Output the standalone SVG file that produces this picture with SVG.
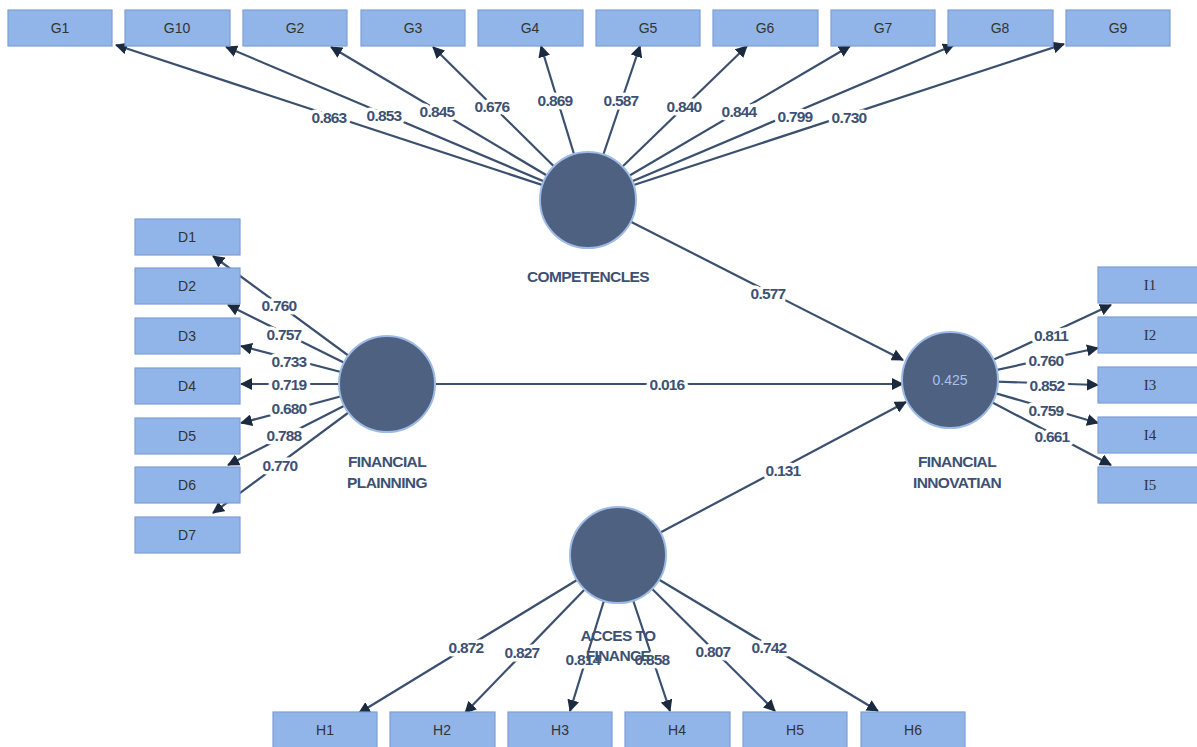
<svg xmlns="http://www.w3.org/2000/svg" width="1197" height="747" viewBox="0 0 1197 747">
<defs>
<style>
.box{fill:#91b4e9;stroke:#7c9fd4;stroke-width:1.2}
.bt{font-family:"Liberation Sans",Arial,sans-serif;font-size:14px;fill:#333;text-anchor:middle;dominant-baseline:central}
.bts{font-family:"Liberation Serif","Times New Roman",serif;font-size:15px;fill:#333;text-anchor:middle;dominant-baseline:central}
.lv{fill:#4e6180;stroke:#9dbbe6;stroke-width:2}
.lt{font-family:"Liberation Sans",Arial,sans-serif;font-size:15.5px;font-weight:bold;fill:#3d5173;text-anchor:middle;letter-spacing:-0.6px}
.lin{stroke:#3b4f6e;stroke-width:2.2;fill:none;marker-end:url(#ah)}
.wl{font-family:"Liberation Sans",Arial,sans-serif;font-size:15.5px;font-weight:bold;fill:#3d5173;text-anchor:middle;dominant-baseline:central;stroke:#fff;stroke-width:7;stroke-linejoin:round;paint-order:stroke;letter-spacing:-0.8px}
</style>
<marker id="ah" markerWidth="12" markerHeight="12" refX="11" refY="6" orient="auto" markerUnits="userSpaceOnUse">
<path d="M0,0 L12,6 L0,12 z" fill="#1c2a40"/>
</marker>
</defs>
<rect width="1197" height="747" fill="#fff"/>
<g id="connectors">
<line class="lin" x1="588" y1="200" x2="116" y2="45"/>
<line class="lin" x1="588" y1="200" x2="226" y2="47"/>
<line class="lin" x1="588" y1="200" x2="331" y2="47"/>
<line class="lin" x1="588" y1="200" x2="433" y2="47"/>
<line class="lin" x1="588" y1="200" x2="541" y2="46"/>
<line class="lin" x1="588" y1="200" x2="640" y2="46"/>
<line class="lin" x1="588" y1="200" x2="747" y2="46"/>
<line class="lin" x1="588" y1="200" x2="850" y2="46"/>
<line class="lin" x1="588" y1="200" x2="954" y2="45"/>
<line class="lin" x1="588" y1="200" x2="1064" y2="44"/>
<line class="lin" x1="387" y1="384" x2="213" y2="256"/>
<line class="lin" x1="387" y1="384" x2="228" y2="305"/>
<line class="lin" x1="387" y1="384" x2="241" y2="346"/>
<line class="lin" x1="387" y1="384" x2="241" y2="384"/>
<line class="lin" x1="387" y1="384" x2="241" y2="423"/>
<line class="lin" x1="387" y1="384" x2="228" y2="465"/>
<line class="lin" x1="387" y1="384" x2="213" y2="513"/>
<line class="lin" x1="950" y1="380" x2="1111" y2="305"/>
<line class="lin" x1="950" y1="380" x2="1098" y2="348"/>
<line class="lin" x1="950" y1="380" x2="1098" y2="385"/>
<line class="lin" x1="950" y1="380" x2="1098" y2="423"/>
<line class="lin" x1="950" y1="380" x2="1111" y2="465"/>
<line class="lin" x1="618" y1="555" x2="359" y2="713"/>
<line class="lin" x1="618" y1="555" x2="465" y2="713"/>
<line class="lin" x1="618" y1="555" x2="570" y2="711"/>
<line class="lin" x1="618" y1="555" x2="670" y2="711"/>
<line class="lin" x1="618" y1="555" x2="775" y2="711"/>
<line class="lin" x1="618" y1="555" x2="878" y2="711"/>
<line class="lin" x1="588" y1="200" x2="903" y2="360"/>
<line class="lin" x1="387" y1="384" x2="903" y2="384"/>
<line class="lin" x1="618" y1="555" x2="906" y2="402"/>
<text class="wl" x="329" y="117">0.863</text>
<text class="wl" x="384" y="115">0.853</text>
<text class="wl" x="437" y="111">0.845</text>
<text class="wl" x="492" y="106">0.676</text>
<text class="wl" x="555" y="100">0.869</text>
<text class="wl" x="621" y="100">0.587</text>
<text class="wl" x="684" y="106">0.840</text>
<text class="wl" x="739" y="111">0.844</text>
<text class="wl" x="795" y="116">0.799</text>
<text class="wl" x="849" y="117">0.730</text>
<text class="wl" x="279" y="305">0.760</text>
<text class="wl" x="284" y="334">0.757</text>
<text class="wl" x="289" y="361">0.733</text>
<text class="wl" x="289" y="384">0.719</text>
<text class="wl" x="289" y="408">0.680</text>
<text class="wl" x="284" y="435">0.788</text>
<text class="wl" x="280" y="465">0.770</text>
<text class="wl" x="1051" y="335">0.811</text>
<text class="wl" x="1046" y="360">0.760</text>
<text class="wl" x="1047" y="385">0.852</text>
<text class="wl" x="1046" y="410">0.759</text>
<text class="wl" x="1052" y="436">0.661</text>
<text class="wl" x="466" y="647">0.872</text>
<text class="wl" x="522" y="652">0.827</text>
<text class="wl" x="583" y="659">0.814</text>
<text class="wl" x="652" y="659">0.858</text>
<text class="wl" x="713" y="651">0.807</text>
<text class="wl" x="769" y="647">0.742</text>
<text class="wl" x="768" y="293">0.577</text>
<text class="wl" x="667" y="384">0.016</text>
<text class="wl" x="783" y="470">0.131</text>
</g>
<g id="G1"><rect class="box" x="8" y="10" width="104" height="36"/><text class="bt" x="60" y="28">G1</text></g>
<g id="G10"><rect class="box" x="125" y="10" width="105" height="36"/><text class="bt" x="177" y="28">G10</text></g>
<g id="G2"><rect class="box" x="243" y="10" width="104" height="36"/><text class="bt" x="295" y="28">G2</text></g>
<g id="G3"><rect class="box" x="361" y="10" width="104" height="36"/><text class="bt" x="413" y="28">G3</text></g>
<g id="G4"><rect class="box" x="478" y="10" width="105" height="36"/><text class="bt" x="530" y="28">G4</text></g>
<g id="G5"><rect class="box" x="596" y="10" width="104" height="36"/><text class="bt" x="648" y="28">G5</text></g>
<g id="G6"><rect class="box" x="713" y="10" width="105" height="36"/><text class="bt" x="765" y="28">G6</text></g>
<g id="G7"><rect class="box" x="831" y="10" width="104" height="36"/><text class="bt" x="883" y="28">G7</text></g>
<g id="G8"><rect class="box" x="948" y="10" width="105" height="36"/><text class="bt" x="1000" y="28">G8</text></g>
<g id="G9"><rect class="box" x="1066" y="10" width="104" height="36"/><text class="bt" x="1118" y="28">G9</text></g>
<g id="D1"><rect class="box" x="135" y="219" width="105" height="36"/><text class="bt" x="187" y="237">D1</text></g>
<g id="D2"><rect class="box" x="135" y="268" width="105" height="36"/><text class="bt" x="187" y="286">D2</text></g>
<g id="D3"><rect class="box" x="135" y="318" width="105" height="36"/><text class="bt" x="187" y="336">D3</text></g>
<g id="D4"><rect class="box" x="135" y="368" width="105" height="36"/><text class="bt" x="187" y="386">D4</text></g>
<g id="D5"><rect class="box" x="135" y="418" width="105" height="36"/><text class="bt" x="187" y="436">D5</text></g>
<g id="D6"><rect class="box" x="135" y="467" width="105" height="36"/><text class="bt" x="187" y="485">D6</text></g>
<g id="D7"><rect class="box" x="135" y="517" width="105" height="36"/><text class="bt" x="187" y="535">D7</text></g>
<g id="I1"><rect class="box" x="1098" y="267" width="104" height="36"/><text class="bts" x="1150" y="285">I1</text></g>
<g id="I2"><rect class="box" x="1098" y="317" width="104" height="36"/><text class="bts" x="1150" y="335">I2</text></g>
<g id="I3"><rect class="box" x="1098" y="367" width="104" height="36"/><text class="bts" x="1150" y="385">I3</text></g>
<g id="I4"><rect class="box" x="1098" y="417" width="104" height="36"/><text class="bts" x="1150" y="435">I4</text></g>
<g id="I5"><rect class="box" x="1098" y="467" width="104" height="36"/><text class="bts" x="1150" y="485">I5</text></g>
<g id="H1"><rect class="box" x="273" y="712" width="104" height="38"/><text class="bt" x="325" y="730">H1</text></g>
<g id="H2"><rect class="box" x="390" y="712" width="105" height="38"/><text class="bt" x="442" y="730">H2</text></g>
<g id="H3"><rect class="box" x="508" y="712" width="104" height="38"/><text class="bt" x="560" y="730">H3</text></g>
<g id="H4"><rect class="box" x="625" y="712" width="105" height="38"/><text class="bt" x="677" y="730">H4</text></g>
<g id="H5"><rect class="box" x="743" y="712" width="104" height="38"/><text class="bt" x="795" y="730">H5</text></g>
<g id="H6"><rect class="box" x="861" y="712" width="104" height="38"/><text class="bt" x="913" y="730">H6</text></g>
<g id="COMPETENCLES"><circle class="lv" cx="588" cy="200" r="48"/><text class="lt" x="588" y="282">COMPETENCLES</text></g>
<g id="FINANCIAL_PLAINNING"><circle class="lv" cx="387" cy="384" r="48"/><text class="lt" x="387" y="467">FINANCIAL</text><text class="lt" x="387" y="488">PLAINNING</text></g>
<g id="FINANCIAL_INNOVATIAN"><circle class="lv" cx="950" cy="380" r="48"/><text x="950" y="380" font-family="Liberation Sans,Arial,sans-serif" font-size="14" fill="#a6c2ea" text-anchor="middle" dominant-baseline="central">0.425</text><text class="lt" x="957" y="467">FINANCIAL</text><text class="lt" x="957" y="488">INNOVATIAN</text></g>
<g id="ACCES_TO_FINANCE"><circle class="lv" cx="618" cy="555" r="48"/><text class="lt" x="618" y="641" font-weight="normal">ACCES TO</text><text class="lt" x="618" y="661" font-weight="normal">FINANCE</text></g>
</svg>
